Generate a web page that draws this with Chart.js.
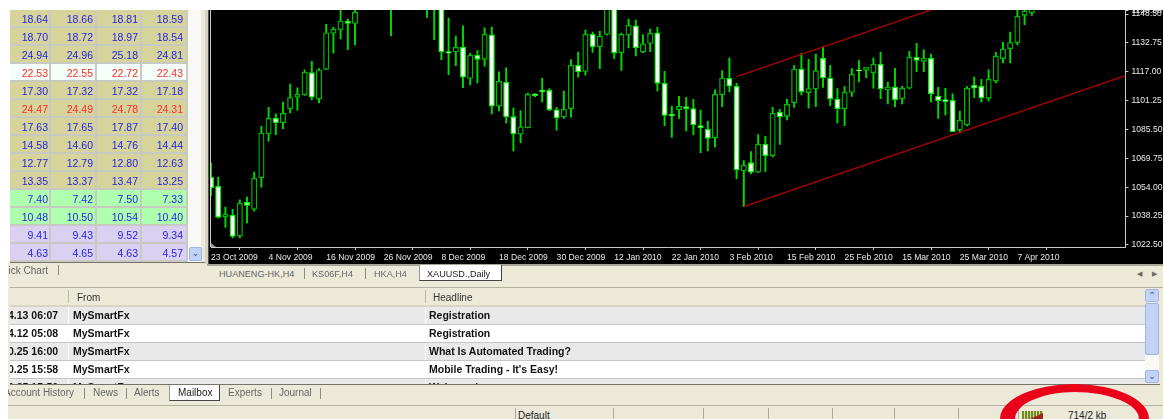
<!DOCTYPE html>
<html lang="en">
<head>
<meta charset="UTF-8">
<title>XAUUSD Daily</title>
<script src="https://cdn.jsdelivr.net/npm/chart.js"></script>
<style>
    html, body { margin: 0; padding: 0; background: #ece9d8; overflow: hidden; }
    body { width: 1163px; height: 419px; position: relative; font: 10px "Liberation Sans", Arial, sans-serif; color: #222; }
    .box { position: absolute; }
    .t { position: absolute; white-space: nowrap; line-height: 12px; }
    .tab { font-size: 9.1px; }
    .grey { color: #666; }
    .sep { position: absolute; width: 1px; background: #8f8d80; }
    .row { position: absolute; left: 10px; width: 1135px; height: 17px; border-bottom: 1px solid #c6c6c6; overflow: hidden; }
    .row b { position: absolute; top: 2px; font: bold 10.5px/12px "Liberation Sans", Arial, sans-serif; color: #111; white-space: nowrap; }
    #quotes { position: absolute; left: 10px; top: 10px; width: 178px; }
    .qrow { display: flex; height: 16px; border-bottom: 2px solid #c9c9c4; }
    .qrow span { display: block; box-sizing: border-box; height: 16px; border-right: 2px solid #c9c9c4; text-align: right; font-size: 10.5px; line-height: 18px; }
    .btn { position: absolute; background: #c3d3f8; border: 1px solid #9db5ea; border-radius: 2px; box-sizing: border-box; color: #4d6185; text-align: center; font: bold 9px/11px "DejaVu Sans", sans-serif; }
    canvas { position: absolute; left: 210px; top: 0; background: #000; }
</style>
</head>
<body>
<canvas id="goldChart" width="953" height="264"></canvas>

<!-- left and top white edge of the screenshot -->
<div class="box" style="left:0;top:0;width:1163px;height:10px;background:#fff;z-index:5"></div>
<div class="box" style="left:0;top:0;width:10px;height:262px;background:#fff"></div>
<div class="box" style="left:0;top:262px;width:8px;height:157px;background:#fff;z-index:3"></div>

<!-- quote table -->
<div id="quotes"></div>
<div class="box" style="left:188px;top:10px;width:13px;height:252px;background:#f8f8f4"></div>
<div class="btn" style="left:189px;top:247px;width:13px;height:14px">&#8964;</div>
<div class="box" style="left:10px;top:262px;width:195px;height:1px;background:#77756a"></div>
<div class="box" style="left:205px;top:10px;width:3px;height:254px;background:#d6d3c4"></div>
<div class="box" style="left:208px;top:10px;width:1px;height:254px;background:#55534c"></div>
<div class="box" style="left:209px;top:10px;width:1px;height:254px;background:#000"></div>
<div class="box" style="left:210px;top:10px;width:1px;height:237px;background:#ccc"></div>
<div class="box" style="left:211px;top:243px;width:5px;height:4px;background:#8a94aa;clip-path:polygon(0 0,100% 100%,0 100%)"></div>
<span class="t grey" style="left:8px;top:265px;width:40px;overflow:hidden;text-align:right">ick Chart</span>
<div class="sep" style="left:58px;top:265px;height:10px"></div>

<!-- chart tabs -->
<div class="box" style="left:207px;top:264px;width:956px;height:2px;background:#a8a698"></div>
<span class="t tab grey" style="left:219px;top:268px">HUANENG-HK,H4</span>
<div class="sep" style="left:304px;top:268px;height:11px"></div>
<span class="t tab grey" style="left:312px;top:268px">KS06F,H4</span>
<div class="sep" style="left:365px;top:268px;height:11px"></div>
<span class="t tab grey" style="left:374px;top:268px">HKA,H4</span>
<div class="box" style="left:419px;top:265px;width:83px;height:16px;background:#fff;border-right:1px solid #444;border-left:1px solid #999;border-bottom:1px solid #444;box-sizing:border-box"></div>
<span class="t tab" style="left:427px;top:268px">XAUUSD.,Daily</span>
<span class="t grey" style="left:1137px;top:268px;font-size:7px">&#9664;</span>
<span class="t grey" style="left:1152px;top:268px;font-size:7px">&#9654;</span>

<!-- mailbox panel -->
<div class="box" style="left:10px;top:287px;width:1153px;height:1px;background:#b2b09f"></div>
<div class="box" style="left:10px;top:305px;width:1135px;height:2px;background:#d8d5c2"></div>
<span class="t grey" style="left:77px;top:292px;color:#333">From</span>
<span class="t grey" style="left:433px;top:292px;color:#333">Headline</span>
<div class="sep" style="left:68px;top:290px;height:13px;background:#bbb9a8"></div>
<div class="sep" style="left:425px;top:290px;height:13px;background:#bbb9a8"></div>
<div id="mail"></div>
<div class="btn" style="left:1145px;top:289px;width:14px;height:13px">&#8963;</div>
<div class="box" style="left:1145px;top:303px;width:14px;height:52px;background:#c3d3f8;border:1px solid #9db5ea;box-sizing:border-box;border-radius:2px"></div>
<div class="box" style="left:1145px;top:355px;width:14px;height:15px;background:#f8f8f4"></div>
<div class="btn" style="left:1145px;top:370px;width:14px;height:13px">&#8964;</div>
<div class="box" style="left:10px;top:384px;width:1150px;height:1px;background:#77756a;z-index:2"></div>
<div class="box" style="left:8px;top:385px;width:1155px;height:20px;background:#ece9d8;z-index:1"></div>

<!-- terminal tabs -->
<div style="position:absolute;left:0;top:0;z-index:2">
    <div class="box" style="left:8px;top:387px;width:66px;height:12px;overflow:hidden">
        <span class="t grey" style="right:0;top:0">Account History</span>
    </div>
    <div class="sep" style="left:84px;top:388px;height:11px"></div>
    <span class="t grey" style="left:93px;top:387px">News</span>
    <div class="sep" style="left:126px;top:388px;height:11px"></div>
    <span class="t grey" style="left:134px;top:387px">Alerts</span>
    <div class="box" style="left:169px;top:385px;width:51px;height:16px;background:#fff;border-left:1px solid #999;border-right:1px solid #444;border-bottom:1px solid #444;box-sizing:border-box"></div>
    <span class="t" style="left:178px;top:387px">Mailbox</span>
    <span class="t grey" style="left:228px;top:387px">Experts</span>
    <div class="sep" style="left:271px;top:388px;height:11px"></div>
    <span class="t grey" style="left:279px;top:387px">Journal</span>
    <div class="sep" style="left:320px;top:388px;height:11px"></div>
</div>

<!-- status bar -->
<div class="box" style="left:8px;top:405px;width:1155px;height:1px;background:#b2b09f;z-index:2"></div>
<span class="t" style="left:518px;top:410px">Default</span>
<div id="statusSeps"></div>
<div class="box" style="left:1022px;top:411px;width:21px;height:8px;background:repeating-linear-gradient(90deg,#6b8e1a 0 2px,#d8d5b0 2px 3px)"></div>
<div class="box" style="left:1030px;top:413px;width:13px;height:6px;background:#a3231c;clip-path:polygon(100% 0,100% 100%,0 100%)"></div>
<span class="t" style="left:1068px;top:410px">714/2 kb</span>
<div class="box" style="left:1000px;top:384px;width:149px;height:70px;border-style:solid;border-color:#ea0018;border-width:8px 10px 8px 15px;border-radius:50%;box-sizing:border-box;z-index:4"></div>

<script>
// daily candles, bars 21-31 run above the visible window so they are estimates
const tickLabels = ['23 Oct 2009', '4 Nov 2009', '16 Nov 2009', '26 Nov 2009', '8 Dec 2009', '18 Dec 2009', '30 Dec 2009', '12 Jan 2010', '22 Jan 2010', '3 Feb 2010', '15 Feb 2010', '25 Feb 2010', '15 Mar 2010', '25 Mar 2010', '7 Apr 2010'];
const priceTicks = [1022.50, 1038.25, 1054.00, 1069.75, 1085.50, 1101.25, 1117.00, 1132.75, 1148.50, 1150.30];

const opens = [1059.4, 1054.5, 1037.8, 1038.7, 1027.4, 1045.8, 1042.0, 1059.2, 1083.2, 1091.6, 1089.2, 1096.9, 1103.1, 1104.5, 1116.5, 1102.1, 1118.3, 1138.0, 1140.0, 1144.7,
    1143.4, 1153, 1161, 1166, 1172, 1168, 1155, 1165, 1190, 1205, 1215, 1175, 1165, 1128.0, 1127.8, 1130.3, 1113.4, 1126.0, 1123.8, 1137.2,
    1098.2, 1111.3, 1092.5, 1082.9, 1086.5, 1104.9, 1106.9, 1106.9, 1096.3, 1092.3, 1096.9, 1120.5, 1117.2, 1137.4, 1130.7, 1137.4, 1160, 1127.4, 1137.1, 1142.1,
    1127.8, 1132.5, 1138.3, 1110.7, 1093.8, 1096.3, 1098.0, 1096.9, 1087.6, 1085.6, 1081.0, 1104.5, 1113.4, 1109.1, 1063.0, 1067.4, 1062.2, 1077.6, 1071.2, 1094.9,
    1092.7, 1100.1, 1118.5, 1105.6, 1107.6, 1124.3, 1113.6, 1102.1, 1096.9, 1105.7, 1118.1, 1117.8, 1116.5, 1121.1, 1107.1, 1108.7, 1102.3, 1108.0, 1124.9, 1122.7,
    1124.3, 1103.8, 1101.8, 1101.4, 1085.2, 1088.0, 1109.6, 1109.1, 1102.5, 1112.0, 1124.1, 1129.6, 1132.9, 1147.8, 1149.2];
const highs = [1067.2, 1059.6, 1043.2, 1042.0, 1047.2, 1048.7, 1062.3, 1087.2, 1097.6, 1094.0, 1100.5, 1110.3, 1108.3, 1118.1, 1122.7, 1118.7, 1142.9, 1141.4, 1153, 1145.8,
    1152, 1168, 1170, 1176, 1178, 1174, 1170, 1195, 1212, 1226, 1222, 1185, 1180, 1146.3, 1136.5, 1142.0, 1127.1, 1128.5, 1140.9, 1141.4,
    1116.9, 1119.1, 1097.2, 1095.8, 1105.4, 1104.9, 1113.4, 1107.8, 1097.6, 1106.5, 1123.6, 1127.8, 1139.8, 1138.7, 1139.1, 1165, 1163, 1138.1, 1145.8, 1145.2,
    1137.1, 1140.3, 1141.3, 1117.2, 1098.2, 1103.6, 1103.1, 1102.0, 1096.1, 1090.0, 1107.2, 1117.6, 1124.5, 1110.7, 1068.5, 1073.4, 1082.7, 1081.8, 1097.6, 1096.5,
    1102.0, 1120.5, 1126.9, 1123.8, 1126.7, 1130.7, 1120.5, 1107.8, 1108.9, 1118.7, 1123.1, 1119.4, 1124.5, 1127.8, 1111.4, 1118.9, 1109.1, 1128.2, 1132.5, 1129.0,
    1126.7, 1108.5, 1108.0, 1104.9, 1095.6, 1108.9, 1114.1, 1112.9, 1118.0, 1127.6, 1133.1, 1138.7, 1152, 1152, 1152];
const lows = [1049.4, 1037.2, 1032.1, 1026.3, 1026.3, 1034.5, 1041.0, 1054.1, 1079.2, 1082.7, 1086.0, 1094.5, 1096.1, 1104.1, 1101.6, 1100.0, 1118.1, 1127.2, 1134.9, 1129.0,
    1131.6, 1152, 1156, 1162, 1164, 1136.5, 1152, 1160, 1185, 1198, 1146.7, 1134.5, 1123.6, 1115.4, 1120.3, 1108.3, 1109.8, 1110.9, 1120.1, 1094.0,
    1095.6, 1089.1, 1073.8, 1078.3, 1086.3, 1103.4, 1100.5, 1095.8, 1085.2, 1091.6, 1092.2, 1114.1, 1115.2, 1127.6, 1118.7, 1137.0, 1124.1, 1117.8, 1130.0, 1125.6,
    1127.4, 1127.9, 1106.5, 1087.6, 1081.2, 1091.6, 1084.7, 1082.7, 1072.9, 1073.8, 1076.0, 1098.0, 1106.0, 1058.7, 1043.4, 1061.4, 1062.0, 1062.7, 1070.5, 1077.4,
    1090.7, 1097.6, 1104.3, 1097.1, 1098.0, 1108.5, 1098.5, 1089.1, 1087.6, 1103.6, 1111.4, 1113.8, 1108.0, 1102.3, 1099.4, 1097.9, 1099.4, 1107.6, 1117.0, 1117.0,
    1100.5, 1091.6, 1093.4, 1084.3, 1084.1, 1087.4, 1102.9, 1100.5, 1101.1, 1110.9, 1121.8, 1121.8, 1131.6, 1142.7, 1147.8];
const closes = [1053.6, 1037.6, 1039.2, 1027.2, 1045.2, 1044.1, 1058.9, 1083.6, 1091.6, 1089.2, 1094.3, 1102.9, 1104.7, 1116.7, 1103.1, 1118.1, 1138.3, 1140.2, 1144.7, 1143.4,
    1149.4, 1161, 1166, 1172, 1168, 1155, 1165, 1190, 1205, 1215, 1175, 1155, 1127.8, 1127.2, 1130.3, 1114.0, 1126.0, 1123.8, 1137.4, 1098.2,
    1111.8, 1092.3, 1083.1, 1087.0, 1104.7, 1104.0, 1106.1, 1096.3, 1091.8, 1096.5, 1120.5, 1117.0, 1137.4, 1130.7, 1136.3, 1160, 1127.2, 1137.4, 1142.3, 1130.1,
    1132.3, 1138.0, 1110.7, 1093.2, 1093.0, 1098.2, 1096.7, 1088.0, 1086.5, 1080.7, 1104.7, 1113.6, 1109.1, 1063.4, 1066.0, 1062.2, 1077.4, 1071.2, 1094.3, 1092.3,
    1099.3, 1118.5, 1106.1, 1107.8, 1117.6, 1113.6, 1102.1, 1096.9, 1105.8, 1115.6, 1117.4, 1119.4, 1121.1, 1107.6, 1108.7, 1101.8, 1108.0, 1124.9, 1123.2, 1124.3,
    1105.0, 1101.2, 1100.7, 1084.3, 1090.5, 1108.0, 1108.0, 1102.7, 1112.9, 1125.4, 1129.4, 1132.9, 1147.3, 1150.1, 1151.2];

// channel lines: bar index and price at both ends
const upperChannel = [[73, 1114.3], [127, 1187.2]];
const lowerChannel = [[74, 1043.4], [127, 1114.9]];

const quoteRows = [
    ['18.64', '18.66', '18.81', '18.59'], ['18.70', '18.72', '18.97', '18.54'], ['24.94', '24.96', '25.18', '24.81'],
    ['22.53', '22.55', '22.72', '22.43'], ['17.30', '17.32', '17.32', '17.18'], ['24.47', '24.49', '24.78', '24.31'],
    ['17.63', '17.65', '17.87', '17.40'], ['14.58', '14.60', '14.76', '14.44'], ['12.77', '12.79', '12.80', '12.63'],
    ['13.35', '13.37', '13.47', '13.25'], ['7.40', '7.42', '7.50', '7.33'], ['10.48', '10.50', '10.54', '10.40'],
    ['9.41', '9.43', '9.52', '9.34'], ['4.63', '4.65', '4.63', '4.57']];
const quoteFills = ['#d6d49b', '#d6d49b', '#d6d49b', '#f5fff9', '#d6d49b', '#d6d49b', '#d6d49b', '#d6d49b', '#d6d49b', '#d6d49b', '#aeffae', '#aeffae', '#d9d0f2', '#d9d0f2'];
const quoteInk = ['#2424e6', '#2424e6', '#2424e6', '#ff2a2a', '#2424e6', '#ff2a2a', '#2424e6', '#2424e6', '#2424e6', '#2424e6', '#2424e6', '#2424e6', '#2424e6', '#2424e6'];
const mailTimes = ['4.13 06:07', '4.12 05:08', '0.25 16:00', '0.25 15:58', '0.25 15:50'];
const mailHeads = ['Registration', 'Registration', 'What Is Automated Trading?', "Mobile Trading - It's Easy!", 'Welcome!'];

// quote table
const colWidths = [41, 46, 45, 46];
const colPads = [1, 2, 2, 3];
document.getElementById('quotes').innerHTML = quoteRows.map((row, r) =>
    '<div class="qrow">' + row.map((q, c) =>
        `<span style="width:${colWidths[c]}px;padding-right:${colPads[c]}px;background:${quoteFills[r]};color:${quoteInk[r]}">${q}</span>`
    ).join('') + '</div>').join('');

// mailbox rows
document.getElementById('mail').innerHTML = mailTimes.map((time, i) =>
    `<div class="row" style="top:${307 + i * 18}px;background:${i % 2 ? '#fff' : '#e9e9e9'}">
        <b style="left:-2px;width:50px;overflow:hidden;text-align:right">${time}</b>
        <b style="left:63px">MySmartFx</b><b style="left:419px">${mailHeads[i]}</b>
        <div class="sep" style="left:58px;top:0;height:18px;background:#fff"></div>
        <div class="sep" style="left:415px;top:0;height:18px;background:#fff"></div>
    </div>`).join('');

document.getElementById('statusSeps').innerHTML = [515, 613, 703, 768, 832, 894, 958, 1018].map(x =>
    `<div class="sep" style="left:${x}px;top:408px;height:11px;background:#aaa897"></div>`).join('');

// chart
const barCount = 128;
const barLabels = Array.from({ length: barCount }, (_, i) => i % 8 === 0 && tickLabels[i / 8] ? tickLabels[i / 8] : 'bar' + i);

function channelData(ends) {
    const out = new Array(barCount).fill(null);
    ends.forEach(([i, price]) => { out[i] = price; });
    return out;
}

new Chart(document.getElementById('goldChart'), {
    type: 'bar',
    data: {
        labels: barLabels,
        datasets: [
            {
                label: 'wick',
                data: highs.map((h, i) => [lows[i], h]),
                backgroundColor: '#00d800',
                barThickness: 1.3,
                grouped: false,
                order: 3
            },
            {
                label: 'body',
                data: opens.map((o, i) => [o, closes[i]]),
                backgroundColor: ctx => closes[ctx.dataIndex] < opens[ctx.dataIndex] ? '#ffffff' : '#000000',
                borderColor: ctx => closes[ctx.dataIndex] < opens[ctx.dataIndex] ? '#00f000' : '#00b800',
                borderWidth: 1.3,
                borderSkipped: false,
                barThickness: 5.4,
                grouped: false,
                order: 2
            },
            { type: 'line', label: 'upper', data: channelData(upperChannel), borderColor: '#b00000', borderWidth: 1.3, pointRadius: 0, spanGaps: true, tension: 0, order: 1 },
            { type: 'line', label: 'lower', data: channelData(lowerChannel), borderColor: '#b00000', borderWidth: 1.3, pointRadius: 0, spanGaps: true, tension: 0, order: 1 }
        ]
    },
    options: {
        responsive: false,
        animation: false,
        layout: { padding: { left: 1 } },
        plugins: { legend: { display: false }, tooltip: { enabled: false } },
        scales: {
            x: {
                offset: false,
                border: { color: '#cccccc' },
                grid: { drawOnChartArea: false, color: '#cccccc', tickLength: 3 },
                ticks: {
                    autoSkip: false, maxRotation: 0, align: 'start', padding: 2,
                    color: '#e8e8e8', font: { family: 'Liberation Sans', size: 8.6 }
                },
                afterBuildTicks: s => { s.ticks = s.ticks.filter(t => t.value % 8 === 0 && t.value / 8 < tickLabels.length); },
                afterFit: s => { s.height = 17; s.paddingLeft = 0; s.paddingRight = 0; }
            },
            y: {
                position: 'right',
                min: 1021.4,
                max: 1156.15,
                border: { color: '#cccccc' },
                grid: { drawOnChartArea: false, color: '#cccccc', tickLength: 3 },
                ticks: {
                    padding: 3, color: '#e8e8e8', font: { family: 'Liberation Sans', size: 8.6 },
                    callback: v => v.toFixed(2)
                },
                afterBuildTicks: s => { s.ticks = priceTicks.map(v => ({ value: v })); },
                afterFit: s => { s.width = 37.6; s.paddingTop = 0; s.paddingBottom = 0; }
            }
        }
    }
});
</script>
</body>
</html>
